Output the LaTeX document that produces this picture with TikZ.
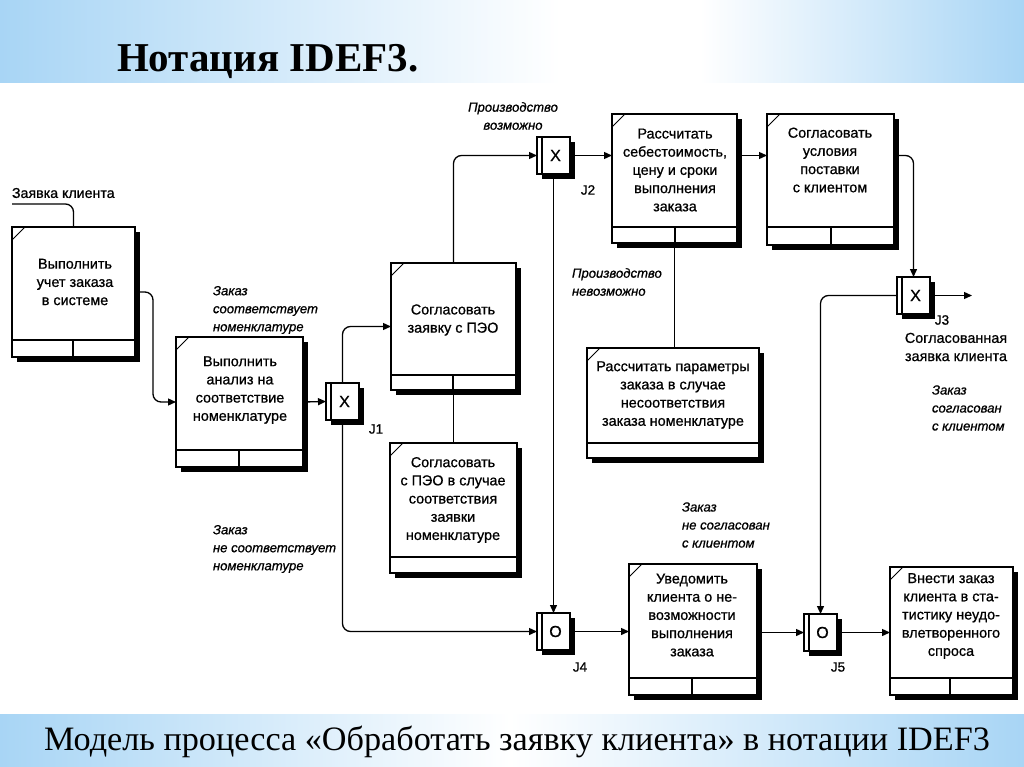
\documentclass[tikz,border=0pt]{standalone}
\usepackage{fontspec}
\setmainfont{Liberation Sans}
\newfontfamily\sbf[FakeBold=0.8]{Liberation Sans}
\newfontfamily\timesf{Liberation Serif}
\usetikzlibrary{arrows.meta,shadows,calc}
\definecolor{bandblue}{RGB}{168,213,245}
\newcommand\uobox[7]{%
  \node[uob, minimum width={#4-#2}, minimum height={#5-#3}] (#1) at (#2,#3) {};
  \draw[line width=1.2pt] (#2,#6) -- (#4,#6);
  \ifx&#7&\else\draw[line width=1.2pt] (#7,#6) -- (#7,#5);\fi
  \draw[line width=0.9pt] ([yshift=-13pt]#1.north west) -- ([xshift=13pt]#1.north west);
}
\newcommand\juncbox[4]{%
  \node[junc] (#1) at (#2,#3) {\hspace*{4pt}#4};
  \draw[line width=1.1pt] ([xshift=5pt]#1.north west) -- ([xshift=5pt]#1.south west);
}
\begin{document}
\begin{tikzpicture}[x=1pt,y=-1pt,
  every node/.style={inner sep=0pt, outer sep=0pt},
  shd/.style={drop shadow={shadow xshift=5pt, shadow yshift=-5pt, fill=black, opacity=1}},
  uob/.style={draw, line width=1.4pt, fill=white, anchor=north west, shd},
  junc/.style={draw, line width=1.4pt, fill=white, anchor=north west, minimum width=33pt, minimum height=37pt, font=\sbf\fontsize{16}{16}\selectfont, shd},
  btxt/.style={align=center, font=\sbf\fontsize{14.4}{18.2}\selectfont},
  itxt/.style={align=left, anchor=west, font=\sbf\itshape\fontsize{13.1}{18}\selectfont},
  conn/.style={line width=1.3pt, rounded corners=8pt},
  arr/.style={conn, -{Triangle[length=8pt,width=7pt]}},
  jl/.style={font=\sbf\fontsize{13.5}{13.5}\selectfont},
]
\useasboundingbox (0,0) rectangle (1024,767);
% bands
\shade[left color=bandblue, right color=white] (0,0) rectangle (560.5,83);
\fill[white] (560,0) rectangle (700,83);
\shade[left color=white, right color=bandblue] (699.5,0) rectangle (1024,83);
\shade[left color=bandblue, right color=white] (0,714) rectangle (510.5,767);
\shade[left color=white, right color=bandblue] (510,714) rectangle (1024,767);
\node[anchor=base west, font=\timesf\bfseries\fontsize{41}{41}\selectfont] (title) at (117,72) {Нотация IDEF3.};
\node[anchor=base, font=\timesf\fontsize{34.2}{34}\selectfont] (caption) at (517,750) {Модель процесса «Обработать заявку клиента» в нотации IDEF3};

% boxes
\uobox{b1}{12}{227}{135}{357}{340}{73}
\uobox{b2}{176}{337}{303}{467}{450}{239}
\uobox{b3}{391}{263}{516}{390}{375}{453}
\uobox{b4}{390}{443}{517}{573}{557}{}
\uobox{b5}{612}{114}{737}{243}{227}{675}
\uobox{b6}{587}{348}{759}{458}{443}{}
\uobox{b7}{767}{114}{894}{245}{227}{831}
\uobox{b8}{629}{564}{757}{695}{678}{692}
\uobox{b9}{890}{567}{1013}{695}{678}{950}

\node[btxt] (t1) at (75,282) {Выполнить\\учет заказа\\в системе};
\node[btxt] (t2) at (240,390) {Выполнить\\анализ на\\соответствие\\номенклатуре};
\node[btxt] (t3) at (453,320) {Согласовать\\заявку с ПЭО};
\node[btxt] (t4) at (453,500) {Согласовать\\с ПЭО в случае\\соответствия\\заявки\\номенклатуре};
\node[btxt] (t5) at (675,170) {Рассчитать\\себестоимость,\\цену и сроки\\выполнения\\заказа};
\node[btxt] (t6) at (673,395) {Рассчитать параметры\\заказа в случае\\несоответствия\\заказа номенклатуре};
\node[btxt] (t7) at (830,160) {Согласовать\\условия\\поставки\\с клиентом};
\node[btxt] (t8) at (692,615) {Уведомить\\клиента о не-\\возможности\\выполнения\\заказа};
\node[btxt] (t9) at (951,616) {Внести заказ\\клиента в ста-\\тистику неудо-\\влетворенного\\спроса};

% junctions
\juncbox{j1}{326}{383}{X}
\juncbox{j2}{537}{137}{X}
\juncbox{j3}{897}{277}{X}
\juncbox{j4}{537}{613}{O}
\juncbox{j5}{804}{614}{O}
\node[jl] (j1l) at (376,429) {J1};
\node[jl] (j2l) at (588,190) {J2};
\node[jl] (j3l) at (942,320) {J3};
\node[jl] (j4l) at (580,667) {J4};
\node[jl] (j5l) at (838,667) {J5};

% labels
\node[anchor=west, font=\sbf\fontsize{14.2}{14}\selectfont] (lzk) at (12,193) {Заявка клиента};
\coordinate (zk) at (12,204);
\node[itxt] (l1) at (213,310) {Заказ\\соответствует\\номенклатуре};
\node[itxt, align=center, anchor=center] (l2) at (513,116) {Производство\\возможно};
\node[itxt] (l3) at (572,282) {Производство\\невозможно};
\node[itxt] (l4) at (213,549) {Заказ\\не соответствует\\номенклатуре};
\node[itxt] (l5) at (682,525) {Заказ\\не согласован\\с клиентом};
\node[btxt] (l6) at (956,347) {Согласованная\\заявка клиента};
\node[itxt] (l7) at (932,408) {Заказ\\согласован\\с клиентом};
\coordinate (jout) at (972,295.5);

% connectors
\draw[conn] (zk) -| (b1.north);
\draw[arr] (b1.east) -- ++(18,0) |- (b2.west);
\draw[arr] (b2.east) -- (j1.west);
\draw[arr] (j1.north) |- (b3.west);
\draw[arr] (j1.south) |- (j4.west);
\draw[arr] (b3.north) |- (j2.west);
\draw[conn] (b3.south) -- (b4.north);
\draw[arr] (j2.east) -- (j2.east -| b5.west);
\draw[arr] (j2.south) -- (j4.north);
\draw[conn] (b5.south) -- (b5.south |- b6.north);
\draw[arr] (b5.east |- j2.east) -- (b7.west |- j2.east);
\draw[arr] (b7.east |- j2.east) -| (j3.north);
\draw[arr] (j3.east) -- (jout);
\draw[arr] (j3.west) -| (j5.north);
\draw[arr] (j4.east) -- (j4.east -| b8.west);
\draw[arr] (b8.east |- j5.west) -- (j5.west);
\draw[arr] (j5.east) -- (j5.east -| b9.west);
\end{tikzpicture}
\end{document}
